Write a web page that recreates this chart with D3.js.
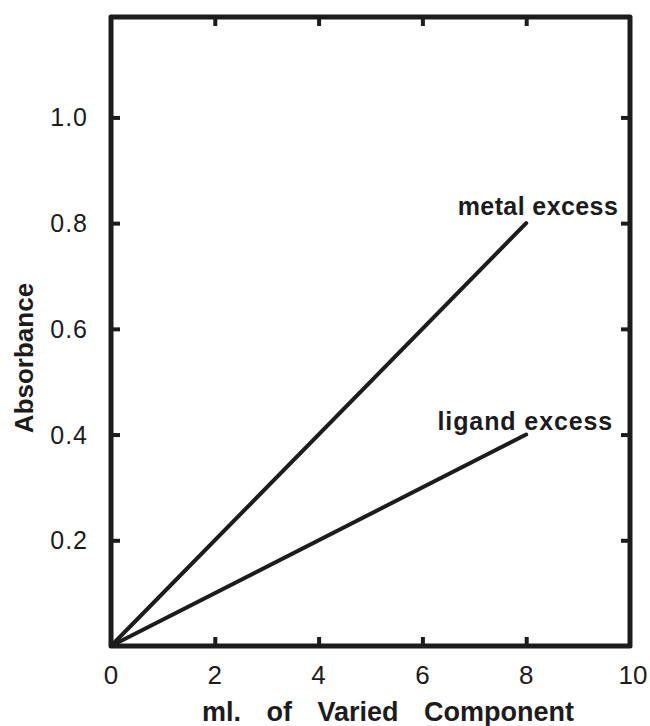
<!DOCTYPE html>
<html>
<head>
<meta charset="utf-8">
<script src="https://cdn.jsdelivr.net/npm/d3@7/dist/d3.min.js"></script>
<style>
  html, body { margin: 0; padding: 0; background: #ffffff; }
  svg { display: block; }
</style>
</head>
<body>
<svg id="chart" width="650" height="726"></svg>
<script>
// ---- data ----
const xTickValues = [0, 2, 4, 6, 8, 10];
const yTickValues = [0.2, 0.4, 0.6, 0.8, 1.0];
const seriesNames = ["metal excess", "ligand excess"];
const volumeMl = [0, 8];
const metalExcessAbs = [0, 0.8];
const ligandExcessAbs = [0, 0.4];
const xTitle = "ml. of Varied Component";
const yTitle = "Absorbance";

// ---- layout ----
const W = 650, H = 726;
const mL = 111, mR = 630, mT = 17, mB = 646;
const ink = "#1c1c1c";

const svg = d3.select("#chart");
svg.append("rect").attr("width", W).attr("height", H).attr("fill", "#ffffff");

const x = d3.scaleLinear().domain([0, 10]).range([mL, mR]);
const y = d3.scaleLinear().domain([0, 1.19]).range([mB, mT]);

const tickFont = "'Liberation Sans', Arial, sans-serif";

// inner ticks on all four sides
const innerX = xTickValues.filter(v => v > 0 && v < 10);
const tickLen = 9;

const bottomAxis = d3.axisBottom(x).tickValues(innerX).tickSize(-tickLen).tickFormat("");
const topAxis = d3.axisTop(x).tickValues(innerX).tickSize(-tickLen).tickFormat("");
const leftAxis = d3.axisLeft(y).tickValues(yTickValues).tickSize(-tickLen).tickFormat("");
const rightAxis = d3.axisRight(y).tickValues(yTickValues).tickSize(-tickLen).tickFormat("");

function styleAxis(g) {
  g.select(".domain").remove();
  g.selectAll(".tick line").attr("stroke", ink).attr("stroke-width", 4);
}
svg.append("g").attr("transform", `translate(0,${mB})`).call(bottomAxis).call(styleAxis);
svg.append("g").attr("transform", `translate(0,${mT})`).call(topAxis).call(styleAxis);
svg.append("g").attr("transform", `translate(${mL},0)`).call(leftAxis).call(styleAxis);
svg.append("g").attr("transform", `translate(${mR},0)`).call(rightAxis).call(styleAxis);

// frame
svg.append("rect")
  .attr("x", mL).attr("y", mT)
  .attr("width", mR - mL).attr("height", mB - mT)
  .attr("fill", "none").attr("stroke", ink).attr("stroke-width", 5)
  .attr("stroke-linejoin", "round");

// tick labels
svg.append("g").selectAll("text").data(xTickValues).join("text")
  .attr("x", d => x(d) + (d === 10 ? 3 : 0))
  .attr("y", mB + 38)
  .attr("text-anchor", "middle")
  .attr("font-family", tickFont)
  .attr("font-size", 26)
  .attr("fill", ink)
  .text(d => d3.format("d")(d));

svg.append("g").selectAll("text").data(yTickValues).join("text")
  .attr("x", mL - 23)
  .attr("y", d => y(d) + 9)
  .attr("text-anchor", "end")
  .attr("font-family", tickFont)
  .attr("font-size", 25)
  .attr("letter-spacing", 1)
  .attr("fill", ink)
  .text(d => d3.format(".1f")(d));

// lines
const line = d3.line().x(d => x(d[0])).y(d => y(d[1]));
const series = [
  { name: seriesNames[0], pts: volumeMl.map((v, i) => [v, metalExcessAbs[i]]), dx: 92, dy: -8, ls: 0.4 },
  { name: seriesNames[1], pts: volumeMl.map((v, i) => [v, ligandExcessAbs[i]]), dx: 87, dy: -5, ls: 0.9 }
];
svg.append("g").selectAll("path").data(series).join("path")
  .attr("d", d => line(d.pts))
  .attr("fill", "none")
  .attr("stroke", ink)
  .attr("stroke-width", 4)
  .attr("stroke-linecap", "round");

// series labels
svg.append("g").selectAll("text").data(series).join("text")
  .attr("x", d => x(d.pts[1][0]) + d.dx)
  .attr("y", d => y(d.pts[1][1]) + d.dy)
  .attr("text-anchor", "end")
  .attr("font-family", tickFont)
  .attr("font-weight", "bold")
  .attr("font-size", 25)
  .attr("letter-spacing", d => d.ls)
  .attr("fill", ink)
  .text(d => d.name);

// axis titles
svg.append("text")
  .attr("x", 202)
  .attr("y", 721)
  .attr("text-anchor", "start")
  .attr("font-family", tickFont)
  .attr("font-weight", "bold")
  .attr("font-size", 27)
  .attr("word-spacing", 18)
  .attr("fill", ink)
  .text(xTitle);

svg.append("text")
  .attr("transform", `translate(33,${358}) rotate(-90)`)
  .attr("text-anchor", "middle")
  .attr("font-family", tickFont)
  .attr("font-weight", "bold")
  .attr("font-size", 26)
  .attr("fill", ink)
  .text(yTitle);
</script>
</body>
</html>
